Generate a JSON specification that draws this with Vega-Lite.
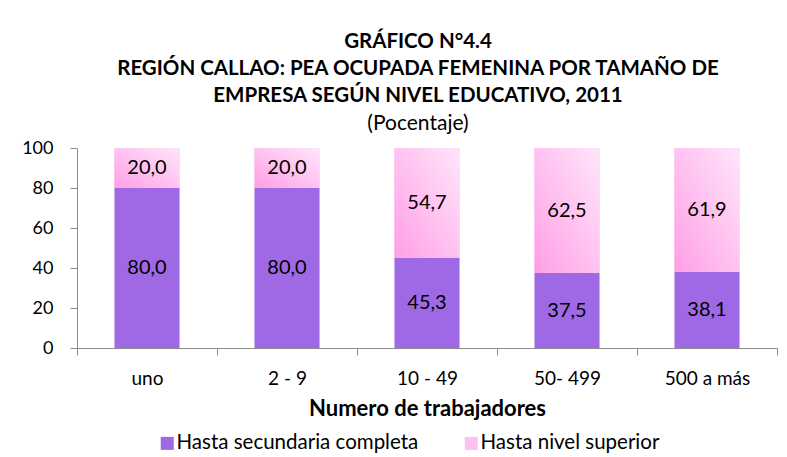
{
  "$schema": "https://vega.github.io/schema/vega-lite/v6.json",
  "width": 700,
  "height": 200,
  "autosize": {"type": "none"},
  "padding": {"left": 77, "top": 148, "right": 10, "bottom": 109},
  "background": "white",
  "config": {
    "font": "Lato",
    "view": {"stroke": null},
    "axisY": {
      "labelOverlap": false,
      "labelFlush": false,
      "grid": false,
      "tickCount": 6,
      "labelFontSize": 18,
      "labelColor": "black",
      "tickSize": 7,
      "tickColor": "#8c8c8c",
      "domainColor": "#8c8c8c",
      "labelPadding": 17
    },
    "locale": {"number": {"decimal": ",", "thousands": ".", "grouping": [3], "currency": ["", ""]}}
  },
  "title": {
    "text": ["GRÁFICO N°4.4", "REGIÓN CALLAO: PEA OCUPADA  FEMENINA POR TAMAÑO DE", "EMPRESA SEGÚN NIVEL EDUCATIVO, 2011"],
    "subtitle": "(Pocentaje)",
    "fontSize": 20.5,
    "fontWeight": "bold",
    "lineHeight": 27,
    "subtitleFontSize": 21,
    "subtitleFontWeight": "normal",
    "subtitleColor": "black",
    "subtitlePadding": 7,
    "color": "black",
    "anchor": "middle",
    "offset": 5,
    "dx": -9
  },
  "data": {
    "values": [
      {"tamano": "uno", "nivel": "Hasta secundaria completa", "orden": 1, "valor": 80.0},
      {"tamano": "uno", "nivel": "Hasta nivel superior", "orden": 2, "valor": 20.0},
      {"tamano": "2 - 9", "nivel": "Hasta secundaria completa", "orden": 1, "valor": 80.0},
      {"tamano": "2 - 9", "nivel": "Hasta nivel superior", "orden": 2, "valor": 20.0},
      {"tamano": "10 - 49", "nivel": "Hasta secundaria completa", "orden": 1, "valor": 45.3},
      {"tamano": "10 - 49", "nivel": "Hasta nivel superior", "orden": 2, "valor": 54.7},
      {"tamano": "50- 499", "nivel": "Hasta secundaria completa", "orden": 1, "valor": 37.5},
      {"tamano": "50- 499", "nivel": "Hasta nivel superior", "orden": 2, "valor": 62.5},
      {"tamano": "500 a más", "nivel": "Hasta secundaria completa", "orden": 1, "valor": 38.1},
      {"tamano": "500 a más", "nivel": "Hasta nivel superior", "orden": 2, "valor": 61.9}
    ]
  },
  "transform": [
    {"stack": "valor", "groupby": ["tamano"], "sort": [{"field": "orden", "order": "ascending"}], "as": ["y0", "y1"]},
    {"calculate": "(datum.y0 + datum.y1) / 2", "as": "ymid"}
  ],
  "encoding": {
    "x": {
      "field": "tamano",
      "type": "nominal",
      "sort": ["uno", "2 - 9", "10 - 49", "50- 499", "500 a más"],
      "scale": {"paddingInner": 0, "paddingOuter": 0},
      "axis": {
        "title": "Numero de trabajadores",
        "titleFontSize": 22,
        "titleFontWeight": "bold",
        "titleColor": "black",
        "titlePadding": 10,
        "labelAngle": 0,
        "labelFontSize": 19,
        "labelColor": "black",
        "labelPadding": 14,
        "tickBand": "extent",
        "tickSize": 7,
        "tickColor": "#8c8c8c",
        "domainColor": "#8c8c8c"
      }
    }
  },
  "layer": [
    {
      "mark": {"type": "bar", "width": {"band": 0.465}},
      "encoding": {
        "y": {
          "field": "y0",
          "type": "quantitative",
          "scale": {"domain": [0, 100]},
          "axis": {"title": null, "values": [0, 20, 40, 60, 80, 100]}
        },
        "y2": {"field": "y1"},
        "color": {
          "field": "nivel",
          "type": "nominal",
          "sort": ["Hasta secundaria completa", "Hasta nivel superior"],
          "scale": {"domain": ["Hasta secundaria completa", "Hasta nivel superior"], "range": ["#9F69E6", "#FDC3F0"]},
          "legend": {
            "title": null,
            "orient": "none",
            "legendX": 80,
            "legendY": 285,
            "direction": "horizontal",
            "symbolType": "square",
            "symbolSize": 170,
            "symbolStrokeWidth": 0,
            "labelFontSize": 20.5,
            "labelColor": "black",
            "labelLimit": 400,
            "columnPadding": 42,
            "labelOffset": -1
          }
        }
      }
    },
    {
      "transform": [{"filter": "datum.orden == 2"}],
      "mark": {
        "type": "bar",
        "width": {"band": 0.465},
        "fill": {
          "gradient": "linear",
          "x1": 0, "y1": 1, "x2": 1, "y2": 0,
          "stops": [
            {"offset": 0, "color": "#FF9FE6"},
            {"offset": 1, "color": "#FFE6FA"}
          ]
        }
      },
      "encoding": {
        "y": {"field": "y0", "type": "quantitative", "axis": {"title": null, "values": [0, 20, 40, 60, 80, 100]}},
        "y2": {"field": "y1"}
      }
    },
    {
      "mark": {"type": "text", "fontSize": 20, "color": "black", "baseline": "middle"},
      "encoding": {
        "y": {"field": "ymid", "type": "quantitative", "axis": {"title": null, "values": [0, 20, 40, 60, 80, 100]}},
        "text": {"field": "valor", "type": "quantitative", "format": ".1f"}
      }
    }
  ]
}
